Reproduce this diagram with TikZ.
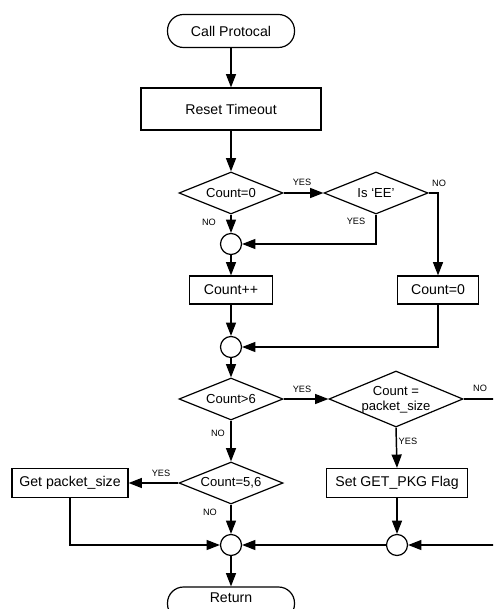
\documentclass[tikz,border=0pt]{standalone}
\usepackage{fontspec}
\setmainfont{Liberation Sans}
\usetikzlibrary{shapes.geometric,arrows.meta}

\begin{document}
\begin{tikzpicture}[x=0.75pt,y=-0.75pt,
  line width=1.1pt,
  flow/.style={-{Triangle[length=10pt,width=7.5pt]}},
  txt/.style={font=\fontsize{10.6}{12}\selectfont},
  term/.style={draw, line width=0.9pt, rounded corners=12pt, fill=white,
    minimum width=95.25pt, minimum height=24.75pt, inner sep=0pt, txt},
  proc/.style={draw, line width=0.9pt, fill=white, minimum height=21pt,
    inner sep=0pt, txt},
  dia/.style={draw, shape=diamond, aspect=2.5, line width=0.9pt, fill=white,
    minimum width=78pt, minimum height=31.5pt, inner sep=0pt,
    font=\fontsize{9.8}{11}\selectfont},
  junc/.style={draw, circle, line width=0.9pt, fill=white,
    minimum size=15.75pt, inner sep=0pt},
  tag/.style={font=\fontsize{6.9}{8}\selectfont, inner sep=0pt}
]
\useasboundingbox (0,0) rectangle (493,609);
\clip (0,0) rectangle (493,609);

% nodes
\node[term] (start) at (231,31) {Call Protocal};
\node[proc, minimum width=135pt, minimum height=31.5pt] (reset) at (231,109) {Reset Timeout};
\node[dia] (d1) at (231,193) {Count=0};
\node[dia] (d2) at (376,193) {Is `EE'};
\node[junc] (j1) at (231,244) {};
\node[proc, minimum width=62.25pt] (inc) at (231,290) {Count++};
\node[proc, minimum width=60.75pt] (zero) at (438,290) {Count=0};
\node[junc] (j2) at (231,347) {};
\node[dia] (d3) at (231,399) {Count>6};
\node[dia, minimum width=100.5pt, minimum height=42pt] (d4) at (396,399) {};
\node[font=\fontsize{9.8}{11.2}\selectfont, align=center, inner sep=0pt] (d4text) at (396,400) {Count =\\packet\_size};
\node[dia] (d5) at (231,483) {Count=5,6};
\node[proc, minimum width=87pt, minimum height=21.75pt] (get) at (70,483) {Get packet\_size};
\node[proc, minimum width=105.75pt, minimum height=21.75pt] (flag) at (397,483) {Set GET\_PKG Flag};
\node[junc] (j3) at (231,545) {};
\node[junc] (j4) at (397,545) {};
\node[term] (ret) at (231,603.5) {};
\node[txt, inner sep=0pt] (rettext) at (231,598) {Return};
\coordinate (edgeA) at (500,399);
\coordinate (edgeB) at (500,545);

% connectors
\draw[flow] (start) -- (reset);
\draw[flow] (reset) -- (d1);
\draw[flow] (d1.east) -- (d2.west);
\draw[flow] (d1.south) -- (j1.north);
\draw[flow] (d2.south) |- (j1.east);
\draw[flow] (d2.east) -| (zero.north);
\draw[flow] (j1) -- (inc);
\draw[flow] (inc) -- (j2);
\draw[flow] (zero.south) |- (j2.east);
\draw[flow] (j2) -- (d3);
\draw[flow] (d3.east) -- (d4.west);
\draw (d4.east) -- (edgeA);
\draw[flow] (d3.south) -- (d5.north);
\draw[flow] (d4.south) -- (flag.north);
\draw[flow] (d5.west) -- (get.east);
\draw[flow] (d5.south) -- (j3.north);
\draw[flow] (get.south) |- (j3.west);
\draw[flow] (j4.west) -- (j3.east);
\draw[flow] (edgeB) -- (j4.east);
\draw[flow] (flag.south) -- (j4.north);
\draw[flow] (j3.south) -- (ret.north);

% branch labels
\node[tag] (l1) at (302,182) {YES};
\node[tag] (l2) at (209,222) {NO};
\node[tag] (l3) at (356,221) {YES};
\node[tag] (l4) at (439,183) {NO};
\node[tag] (l5) at (302,389) {YES};
\node[tag] (l6) at (480,388) {NO};
\node[tag] (l7) at (218,433) {NO};
\node[tag, anchor=west] (l8) at (398,441) {YES};
\node[tag] (l9) at (161,473) {YES};
\node[tag] (l10) at (210,512) {NO};
\end{tikzpicture}
\end{document}
